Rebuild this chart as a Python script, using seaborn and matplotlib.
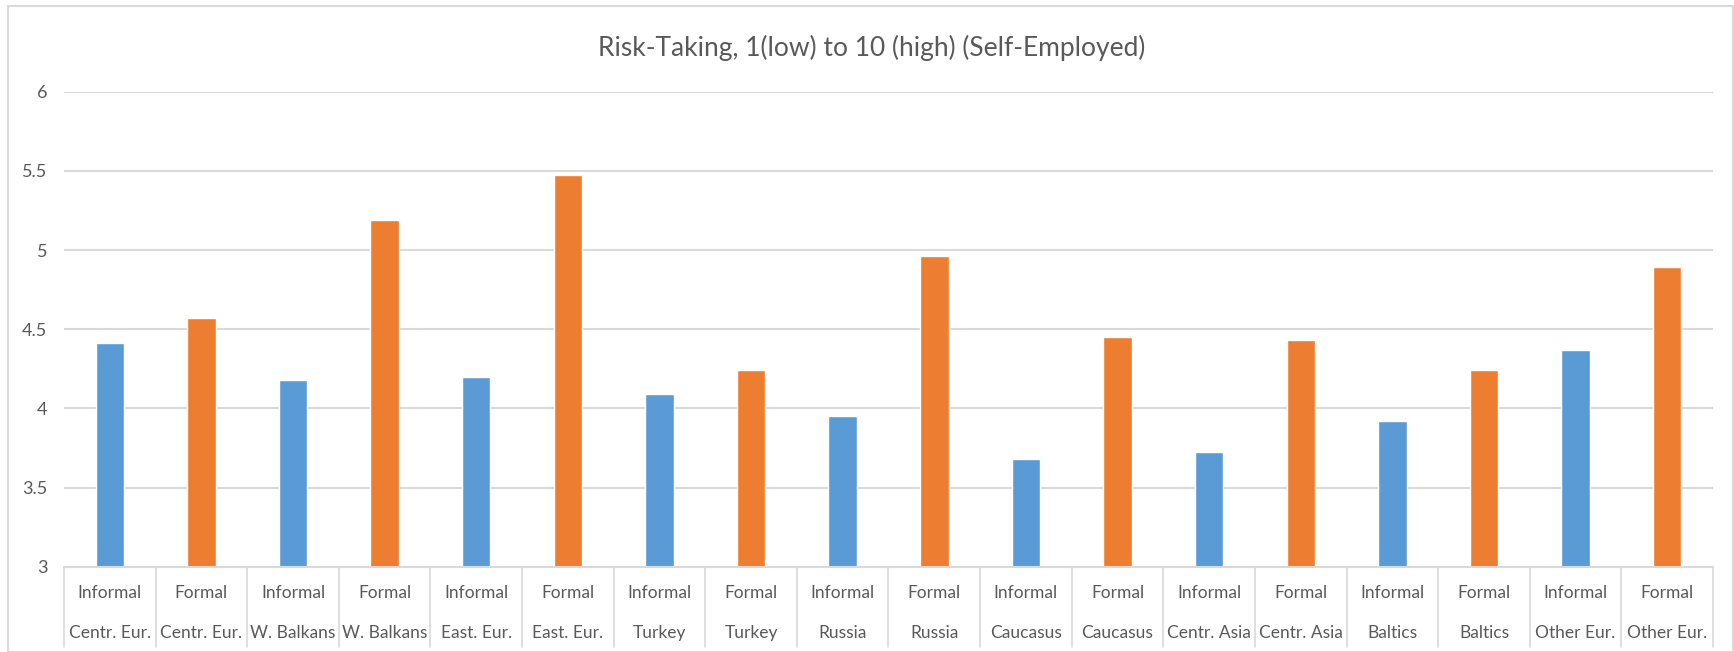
import matplotlib
matplotlib.use("Agg")
import matplotlib.pyplot as plt
import matplotlib.transforms as mtransforms
from matplotlib.patches import Rectangle
import pandas as pd
import seaborn as sns

# Survey means of self-reported risk-taking, by region and employment type
regions = ["Centr. Eur.", "W. Balkans", "East. Eur.", "Turkey", "Russia",
           "Caucasus", "Centr. Asia", "Baltics", "Other Eur."]
informal = [4.41, 4.18, 4.20, 4.09, 3.95, 3.68, 3.725, 3.92, 4.37]
formal = [4.57, 5.19, 5.475, 4.24, 4.96, 4.45, 4.43, 4.245, 4.895]
statuses = ["Informal", "Formal"]
yticks = [3, 3.5, 4, 4.5, 5, 5.5, 6]
title = "Risk-Taking, 1(low) to 10 (high) (Self-Employed)"

rows = []
for reg, vi, vf in zip(regions, informal, formal):
    rows.append({"label": f"Informal\n{reg}", "status": "Informal", "value": vi})
    rows.append({"label": f"Formal\n{reg}", "status": "Formal", "value": vf})
df = pd.DataFrame(rows)

sns.set_theme(style="white")
plt.rcParams["font.family"] = ["Lato", "DejaVu Sans"]

W, H = 1734, 652
fig = plt.figure(figsize=(W / 100, H / 100), dpi=100)
ax = fig.add_axes([64 / W, 1 - 566.7 / H, (1713 - 64) / W, (566.7 - 91.7) / H])

sns.barplot(data=df, x="label", y="value", hue="status",
            palette={"Informal": "#5B9BD5", "Formal": "#ED7D31"},
            dodge=False, width=0.31, saturation=1, legend=False, ax=ax)

grid = "#D9D9D9"
text_c = "#595959"
ax.set_ylim(3, 6)
ax.set_xlim(-0.5, len(df) - 0.5)
ax.set_yticks(yticks)
ax.set_yticklabels([f"{t:g}" for t in yticks])
ax.yaxis.grid(True, color=grid, linewidth=1.5)
ax.set_axisbelow(True)
ax.set_xlabel("")
ax.set_ylabel("")
for side in ["left", "right", "top"]:
    ax.spines[side].set_visible(False)
ax.spines["bottom"].set_color(grid)
ax.spines["bottom"].set_linewidth(1.5)

ax.tick_params(axis="y", length=0, pad=12, labelsize=13, labelcolor=text_c)
ax.tick_params(axis="x", length=0, pad=13, labelsize=12.5, labelcolor=text_c)
for lbl in ax.get_xticklabels():
    lbl.set_linespacing(2.85)

# category boxes under the axis
trans = mtransforms.blended_transform_factory(ax.transData, ax.transAxes)
for i in range(len(df) + 1):
    ax.plot([i - 0.5, i - 0.5], [0, -0.168], transform=trans, color=grid,
            linewidth=1.2, clip_on=False)

fig.text(872 / W, 1 - 48 / H, title, ha="center", va="center",
         fontsize=19, color=text_c)

# chart frame
fig.patches.append(Rectangle((8 / W, 0), (W - 9) / W, 1 - 6 / H,
                             transform=fig.transFigure, fill=False,
                             edgecolor=grid, linewidth=1.5))

fig.savefig("out.png", dpi=100, facecolor="white")
